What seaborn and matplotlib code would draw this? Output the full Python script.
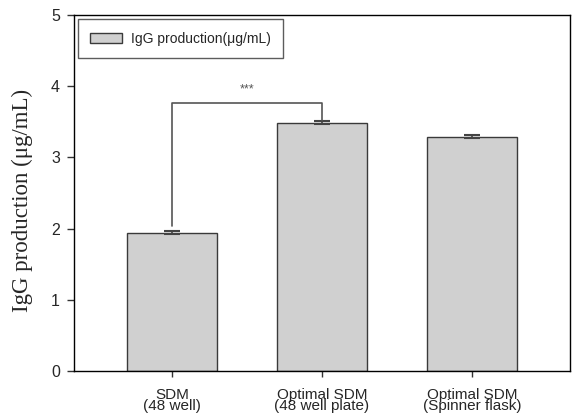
import matplotlib
matplotlib.use("Agg")
import matplotlib.pyplot as plt
import seaborn as sns
import pandas as pd
import numpy as np

categories = ["SDM\n(48 well)", "Optimal SDM\n(48 well plate)", "Optimal SDM\n(Spinner flask)"]
values = [1.94, 3.49, 3.29]
errors = [0.02, 0.02, 0.02]
y_ticks = [0, 1, 2, 3, 4, 5]
legend_label = "IgG production(\u03bcg/mL)"
y_label = "IgG production (\u03bcg/mL)"
sig_text = "***"
bracket_top = 3.77
bracket_left_bottom = 2.03
bracket_right_bottom = 3.53

sns.set_style("ticks")
plt.rcParams['font.family'] = ['Liberation Sans', 'DejaVu Sans']

df = pd.DataFrame({"cat": categories, "val": values})

fig = plt.figure(figsize=(5.73, 4.2), dpi=100)
ax = fig.add_axes([74/573, 1 - 371/420, (570-74)/573, (371-15)/420])

sns.barplot(data=df, x="cat", y="val", ax=ax, color="#d0d0d0", width=0.6,
            edgecolor="#3a3a3a", linewidth=1.0, errorbar=None, saturation=1,
            label=legend_label)
ax.errorbar(np.arange(len(values)), values, yerr=errors, fmt="none",
            ecolor="#444444", elinewidth=1.2, capsize=5.5, capthick=1.5)

ax.set_xlim(-0.653, 2.653)
ax.set_ylim(0, 5)
ax.set_yticks(y_ticks)
ax.set_yticklabels([str(t) for t in y_ticks], fontsize=11.5)
ax.tick_params(axis="x", labelsize=11, length=4, width=1, color="#333333", pad=8)
ax.tick_params(axis="y", length=5, width=1, color="#333333", pad=5)
for tl in ax.get_xticklabels():
    tl.set_linespacing(0.8)
ax.set_xlabel("")
ax.set_ylabel(y_label, family="Liberation Serif", fontsize=16.5)
ax.yaxis.set_label_coords(-0.083, 0.478)
for s in ax.spines.values():
    s.set_visible(True)
    s.set_linewidth(1.0)
    s.set_color("black")

# significance bracket
ax.plot([0, 0, 1, 1], [bracket_left_bottom, bracket_top, bracket_top, bracket_right_bottom],
        color="#555555", linewidth=1.2)
ax.text(0.5, bracket_top + 0.18, sig_text, ha="center", va="center", fontsize=9, color="#555555")

leg = ax.legend(loc="upper left", frameon=True, fancybox=False, fontsize=10,
                handlelength=2.3, handleheight=0.75, handletextpad=0.6, borderpad=0.9,
                bbox_to_anchor=(0.008, 0.988), borderaxespad=0)
leg.get_frame().set_edgecolor("#333333")
leg.get_frame().set_linewidth(1.0)

fig.savefig("out.png", dpi=100)
